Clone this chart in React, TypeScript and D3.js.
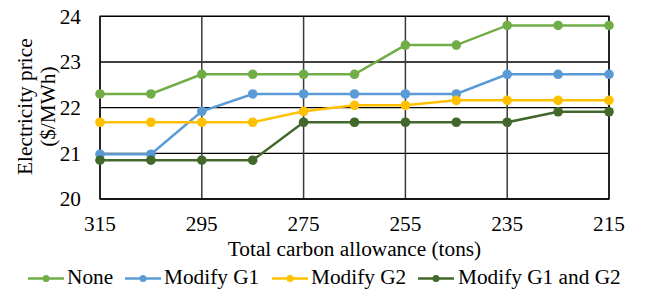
import React from "react";
import * as d3 from "d3";

const allowances = [315, 305, 295, 285, 275, 265, 255, 245, 235, 225, 215];
const xTicks = [315, 295, 275, 255, 235, 215];
const yTicks = [20, 21, 22, 23, 24];
const seriesNames = ["None", "Modify G1", "Modify G2", "Modify G1 and G2"];
const seriesColors = ["#70AD47", "#5B9BD5", "#FFC000", "#43682B"];
const none = [22.3, 22.3, 22.73, 22.73, 22.73, 22.73, 23.37, 23.37, 23.8, 23.8, 23.8];
const modG1 = [20.98, 20.98, 21.92, 22.3, 22.3, 22.3, 22.3, 22.3, 22.73, 22.73, 22.73];
const modG2 = [21.68, 21.68, 21.68, 21.68, 21.92, 22.05, 22.05, 22.16, 22.16, 22.16, 22.16];
const modG1G2 = [20.85, 20.85, 20.85, 20.85, 21.68, 21.68, 21.68, 21.68, 21.68, 21.91, 21.91];
const seriesValues = [none, modG1, modG2, modG1G2];

const W = 649, H = 291;
const L = 100, R = 609, T = 16.3, B = 199;
const FONT = "Liberation Serif";
const FS = 21.3;

export default function App() {
  const x = d3.scaleLinear().domain([315, 215]).range([L, R]);
  const y = d3.scaleLinear().domain([20, 24]).range([B, T]);
  const line = d3.line<number>().x((_, i) => x(allowances[i])).y((v) => y(v));

  const legendItems = [
    { lx: 28, tx: 67 },
    { lx: 125, tx: 164 },
    { lx: 272, tx: 311 },
    { lx: 418, tx: 458 },
  ];

  return (
    <svg width={W} height={H} style={{ position: "absolute", left: 0, top: 0, background: "#fff" }}>
      {yTicks.map((t) => (
        <line key={"h" + t} x1={L} x2={R} y1={y(t)} y2={y(t)} stroke="#000" strokeWidth={1.3} />
      ))}
      {xTicks.map((t) => (
        <line key={"v" + t} x1={x(t)} x2={x(t)} y1={T} y2={B} stroke="#3a3a3a" strokeWidth={1.5} />
      ))}
      <rect x={L} y={T} width={R - L} height={B - T} fill="none" stroke="#000" strokeWidth={1.3} />
      {seriesValues.map((vals, si) => (
        <g key={si}>
          <path d={line(vals) || ""} fill="none" stroke={seriesColors[si]} strokeWidth={2.5} />
          {vals.map((v, i) => (
            <circle key={i} cx={x(allowances[i])} cy={y(v)} r={4.8} fill={seriesColors[si]} />
          ))}
        </g>
      ))}
      {yTicks.map((t) => (
        <text key={"yl" + t} x={81} y={y(t)} dy="0.35em" textAnchor="end" fontFamily={FONT} fontSize={FS}>
          {t}
        </text>
      ))}
      {xTicks.map((t) => (
        <text key={"xl" + t} x={x(t)} y={231} textAnchor="middle" fontFamily={FONT} fontSize={FS}>
          {t}
        </text>
      ))}
      <text x={(L + R) / 2} y={256} textAnchor="middle" fontFamily={FONT} fontSize={FS}>
        Total carbon allowance (tons)
      </text>
      <g transform={`translate(25,${(T + B) / 2 - 1}) rotate(-90)`}>
        <text x={0} y={0} dy="0.35em" textAnchor="middle" fontFamily={FONT} fontSize={FS}>
          Electricity price
        </text>
        <text x={0} y={23} dy="0.35em" textAnchor="middle" fontFamily={FONT} fontSize={FS}>
          ($/MWh)
        </text>
      </g>
      {legendItems.map((it, i) => (
        <g key={"lg" + i}>
          <line x1={it.lx} x2={it.lx + 36} y1={278.5} y2={278.5} stroke={seriesColors[i]} strokeWidth={2.5} />
          <circle cx={it.lx + 18} cy={278.5} r={3.5} fill={seriesColors[i]} />
          <text x={it.tx} y={284} fontFamily={FONT} fontSize={FS}>
            {seriesNames[i]}
          </text>
        </g>
      ))}
    </svg>
  );
}
